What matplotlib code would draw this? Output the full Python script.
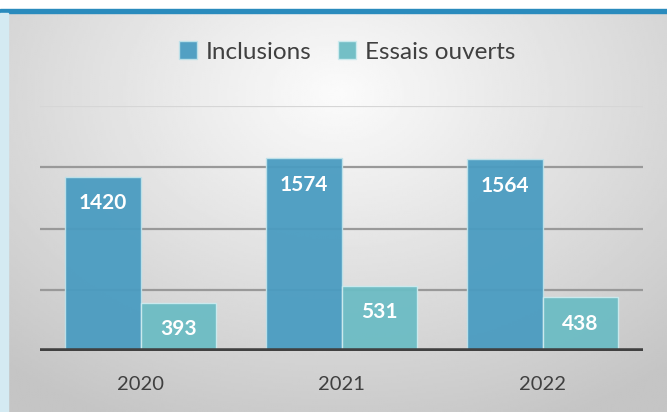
import matplotlib.pyplot as plt
import numpy as np
from matplotlib.patches import Rectangle

years = ["2020", "2021", "2022"]
inclusions = [1420, 1574, 1564]
essais = [393, 531, 438]
series_names = ["Inclusions", "Essais ouverts"]

col_inc = "#4a9cc1"
col_ess = "#6cbcc4"

plt.rcParams['font.family'] = ['Lato', 'DejaVu Sans']

fig = plt.figure(figsize=(6.67, 4.12), dpi=100)
fig.patch.set_facecolor("white")

# frame decorations: top blue line, left light strip
fig.patches.append(Rectangle((0, 1 - 12.5/412), 1, 3.5/412, transform=fig.transFigure,
                             color="#2a8bbd", zorder=0))
fig.patches.append(Rectangle((0, 0), 8/667, 1 - 12.5/412, transform=fig.transFigure,
                             color="#d4eaf2", zorder=0))

# gray radial gradient background
bg = fig.add_axes([8/667, 0, 1 - 8/667, 1 - 13/412])
yy, xx = np.mgrid[0:1:200j, 0:1:300j]
r = np.sqrt(((xx - 0.5) / 0.75) ** 2 + ((yy - 0.2) / 0.9) ** 2)
shade = np.clip(0.985 - 0.21 * r, 0.77, 1.0)
bg.imshow(shade, cmap="gray", vmin=0, vmax=1, aspect="auto", extent=[0, 1, 1, 0])
bg.set_axis_off()

ax = fig.add_axes([40/667, 1 - 351/412, 603/667, 245/412])
ax.set_facecolor("none")

x = np.arange(len(years))
w = 0.375
b1 = ax.bar(x - w/2, inclusions, w, color=col_inc, alpha=0.95, edgecolor="#bfe2ea",
            linewidth=1, zorder=3, label=series_names[0])
b2 = ax.bar(x + w/2, essais, w, color=col_ess, alpha=0.95, edgecolor="#cdebef",
            linewidth=1, zorder=3, label=series_names[1])

for bars in (b1, b2):
    for rect in bars:
        h = rect.get_height()
        ax.annotate(str(h), (rect.get_x() + rect.get_width()/2, h), xytext=(0, -19),
                    textcoords="offset points", ha="center", va="center",
                    color="white", fontsize=15, fontweight="bold", zorder=5)

for v in [500, 1000, 1500]:
    ax.axhline(v, color="#999999", lw=1.6, zorder=1)
ax.axhline(2000, color="#d6d6d6", lw=1.6, zorder=1)
ax.axhline(0, color="#404040", lw=4, zorder=4)

ax.set_xlim(-0.5, 2.5)
ax.set_ylim(0, 2000)
ax.set_xticks(x)
ax.set_xticklabels(years, fontsize=14.5, color="#404040")
ax.tick_params(axis="x", length=0, pad=18)
ax.set_yticks([])
for s in ax.spines.values():
    s.set_visible(False)

fig.legend(handles=[b1, b2], labels=series_names, loc="center", ncol=2,
           bbox_to_anchor=(0.52, 1 - 52/412), frameon=False, fontsize=17.5,
           handlelength=0.75, handleheight=0.75, handletextpad=0.35, columnspacing=1.1,
           labelcolor="#404040")

fig.savefig("out.png", dpi=100)
